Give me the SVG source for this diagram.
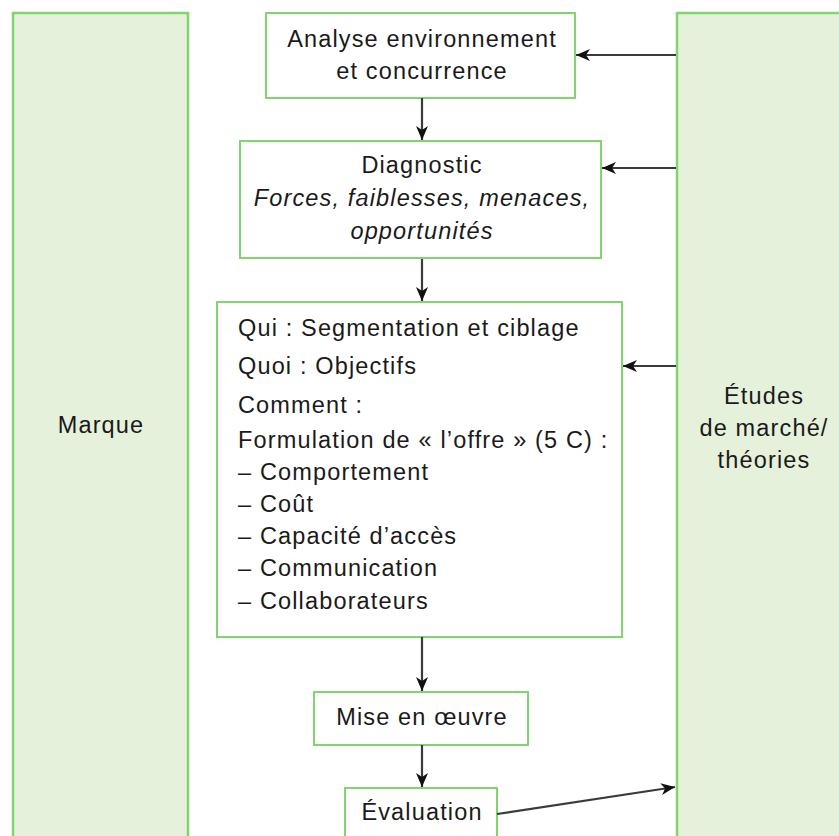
<svg xmlns="http://www.w3.org/2000/svg" width="839" height="836" viewBox="0 0 839 836">
<defs>
<style>
.side{fill:#e5f1da;stroke:#80d56c;stroke-width:2.5}
.box{fill:#ffffff;stroke:#80d56c;stroke-width:2}
text{font-family:"Liberation Sans",Arial,sans-serif;font-size:23.5px;letter-spacing:1.15px;fill:#1a1a1a}
.c{text-anchor:middle}
.i{font-style:italic}
.ln{stroke:#3a3a3a;stroke-width:2.2;fill:none;marker-end:url(#ah)}
</style>
<marker id="ah" viewBox="0 0 14 12" refX="14" refY="6" markerWidth="14" markerHeight="12" markerUnits="userSpaceOnUse" orient="auto">
<path d="M0,0 L14,6 L0,12 L4,6 Z" fill="#111"/>
</marker>
</defs>
<rect width="839" height="836" fill="#ffffff"/>
<g id="marque">
<rect class="side" x="13" y="13" width="175" height="830"/>
<text class="c" x="101" y="433">Marque</text>
</g>
<g id="etudes">
<rect class="side" x="677" y="13" width="175" height="830"/>
<text class="c" x="764" y="404">Études</text>
<text class="c" x="764" y="436">de marché/</text>
<text class="c" x="764" y="468">théories</text>
</g>
<g id="analyse">
<rect class="box" x="266" y="13" width="309" height="85"/>
<text class="c" x="422" y="47">Analyse environnement</text>
<text class="c" x="422" y="79">et concurrence</text>
</g>
<g id="diagnostic">
<rect class="box" x="240" y="141" width="361" height="117"/>
<text class="c" x="422" y="173">Diagnostic</text>
<text class="c i" x="422" y="206">Forces, faiblesses, menaces,</text>
<text class="c i" x="422" y="239">opportunités</text>
</g>
<g id="strategie">
<rect class="box" x="217" y="302" width="405" height="335"/>
<text x="238" y="336">Qui : Segmentation et ciblage</text>
<text x="238" y="374">Quoi : Objectifs</text>
<text x="238" y="413">Comment :</text>
<text x="238" y="448">Formulation de « l’offre » (5 C) :</text>
<text x="238" y="480">– Comportement</text>
<text x="238" y="512">– Coût</text>
<text x="238" y="544">– Capacité d’accès</text>
<text x="238" y="576">– Communication</text>
<text x="238" y="609">– Collaborateurs</text>
</g>
<g id="mise">
<rect class="box" x="314" y="692" width="214" height="53"/>
<text class="c" x="422" y="725">Mise en œuvre</text>
</g>
<g id="evaluation">
<rect class="box" x="345" y="788" width="152" height="60"/>
<text class="c" x="422" y="820">Évaluation</text>
</g>
<g id="connectors">
<line class="ln" x1="676" y1="55" x2="576" y2="55"/>
<line class="ln" x1="676" y1="168" x2="602" y2="168"/>
<line class="ln" x1="676" y1="366" x2="623" y2="366"/>
<line class="ln" x1="422" y1="98" x2="422" y2="140"/>
<line class="ln" x1="422" y1="259" x2="422" y2="301"/>
<line class="ln" x1="422" y1="637" x2="422" y2="691"/>
<line class="ln" x1="422" y1="745" x2="422" y2="787"/>
<line class="ln" x1="497" y1="814" x2="675" y2="787"/>
</g>
</svg>
